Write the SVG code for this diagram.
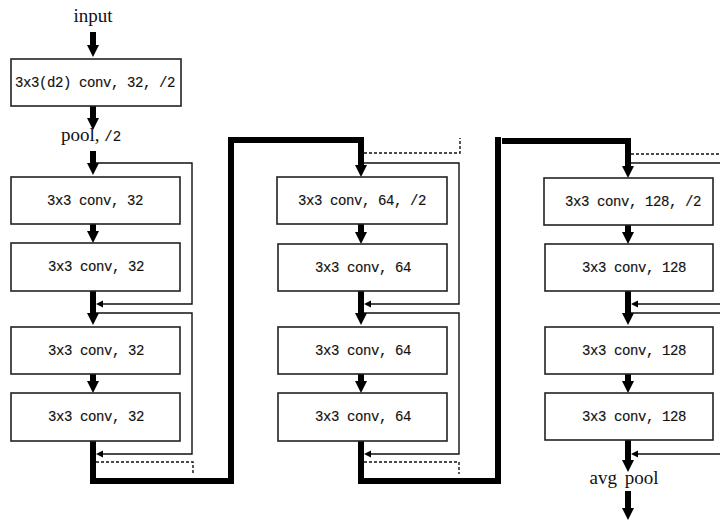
<svg xmlns="http://www.w3.org/2000/svg" width="720" height="520" viewBox="0 0 720 520">
<style>
.box{fill:#fff;stroke:#222;stroke-width:1.6}
.bt{font-family:"Liberation Mono","DejaVu Sans Mono",monospace;font-size:14px;letter-spacing:-0.4px;fill:#111;stroke:#111;stroke-width:0.15;text-anchor:middle}
.lbl{font-family:"Liberation Serif","DejaVu Serif",serif;font-size:19px;fill:#111;text-anchor:middle}
.mono{font-family:"Liberation Mono","DejaVu Sans Mono",monospace;font-size:14px;stroke:#111;stroke-width:0.15}
.main{fill:none;stroke:#000;stroke-width:6;stroke-linejoin:miter}
.skip{fill:none;stroke:#111;stroke-width:1.4}
.dash{fill:none;stroke:#111;stroke-width:1.4;stroke-dasharray:3 2}
</style>
<defs>
<marker id="head" markerUnits="userSpaceOnUse" viewBox="0 -6 12 12" refX="0" refY="0" markerWidth="12" markerHeight="12" orient="auto">
<path d="M0,-6 L12,0 L0,6 z" fill="#000"/>
</marker>
<marker id="small" markerUnits="userSpaceOnUse" viewBox="0 -4 7 8" refX="0" refY="0" markerWidth="7" markerHeight="8" orient="auto">
<path d="M0,-3.5 L7,0 L0,3.5 z" fill="#000"/>
</marker>
</defs>

<g id="connectors">
<path class="main" d="M93 32 V45" marker-end="url(#head)"/>
<path class="main" d="M93 106 V118" marker-end="url(#head)"/>
<path class="main" d="M93 151 V163" marker-end="url(#head)"/>
<path class="main" d="M93 224 V231" marker-end="url(#head)"/>
<path class="main" d="M93 291 V313" marker-end="url(#head)"/>
<path class="main" d="M93 374 V381" marker-end="url(#head)"/>
<path class="main" d="M93 441 V481 H231 V140 H361 V165" marker-end="url(#head)"/>
<path class="skip" d="M96 163 H192 V304 H103" marker-end="url(#small)"/>
<path class="skip" d="M96 313 H192 V454 H103" marker-end="url(#small)"/>
<path class="dash" d="M96 462 H193 V475"/>
<path class="main" d="M361 224 V232" marker-end="url(#head)"/>
<path class="main" d="M361 291 V313" marker-end="url(#head)"/>
<path class="main" d="M361 374 V381" marker-end="url(#head)"/>
<path class="main" d="M361 441 V481 H498 V137"/>
<path class="main" d="M502 141 H628 V166" marker-end="url(#head)"/>
<path class="dash" d="M364 153 H460 V138"/>
<path class="skip" d="M364 163 H459 V304 H371" marker-end="url(#small)"/>
<path class="skip" d="M364 313 H459 V454 H371" marker-end="url(#small)"/>
<path class="dash" d="M364 462 H459 V474"/>
<path class="main" d="M628 225 V232" marker-end="url(#head)"/>
<path class="main" d="M628 291 V313" marker-end="url(#head)"/>
<path class="main" d="M628 374 V381" marker-end="url(#head)"/>
<path class="main" d="M628 440 V460" marker-end="url(#head)"/>
<path class="main" d="M628 491 V508" marker-end="url(#head)"/>
<path class="dash" d="M631 154 H720"/>
<path class="skip" d="M631 163 H720"/>
<path class="skip" d="M720 304 H638" marker-end="url(#small)"/>
<path class="skip" d="M631 313 H720"/>
<path class="skip" d="M720 454 H638" marker-end="url(#small)"/>
</g>

<g id="input"><text class="lbl" x="93" y="22" font-size="20">input</text></g>
<g id="conv0"><rect class="box" x="11" y="59" width="170" height="47"/><text class="bt" x="95" y="87">3x3(d2) conv, 32, /2</text></g>
<g id="pool"><text class="lbl" x="91" y="141">pool, <tspan class="mono">/2</tspan></text></g>

<g id="c1b1"><rect class="box" x="11" y="177" width="169" height="47"/><text class="bt" x="95" y="205">3x3 conv, 32</text></g>
<g id="c1b2"><rect class="box" x="11" y="243" width="169" height="48"/><text class="bt" x="96" y="271">3x3 conv, 32</text></g>
<g id="c1b3"><rect class="box" x="11" y="327" width="169" height="47"/><text class="bt" x="96" y="355">3x3 conv, 32</text></g>
<g id="c1b4"><rect class="box" x="11" y="393" width="169" height="48"/><text class="bt" x="96" y="421">3x3 conv, 32</text></g>

<g id="c2b1"><rect class="box" x="277" y="177" width="170" height="47"/><text class="bt" x="362" y="205">3x3 conv, 64, /2</text></g>
<g id="c2b2"><rect class="box" x="278" y="244" width="169" height="47"/><text class="bt" x="363" y="272">3x3 conv, 64</text></g>
<g id="c2b3"><rect class="box" x="278" y="327" width="169" height="47"/><text class="bt" x="363" y="355">3x3 conv, 64</text></g>
<g id="c2b4"><rect class="box" x="278" y="393" width="169" height="48"/><text class="bt" x="363" y="421">3x3 conv, 64</text></g>

<g id="c3b1"><rect class="box" x="544" y="178" width="169" height="47"/><text class="bt" x="633" y="206">3x3 conv, 128, /2</text></g>
<g id="c3b2"><rect class="box" x="545" y="244" width="168" height="47"/><text class="bt" x="634" y="272">3x3 conv, 128</text></g>
<g id="c3b3"><rect class="box" x="545" y="327" width="168" height="47"/><text class="bt" x="634" y="355">3x3 conv, 128</text></g>
<g id="c3b4"><rect class="box" x="545" y="393" width="168" height="47"/><text class="bt" x="634" y="421">3x3 conv, 128</text></g>

<g id="avgpool"><text class="lbl" x="624" y="484" font-size="18" word-spacing="3">avg pool</text></g>
</svg>
